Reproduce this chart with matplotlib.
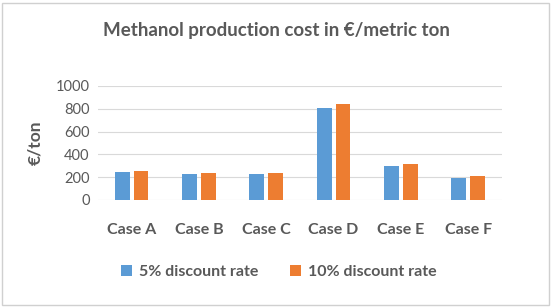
import numpy as np
import matplotlib
matplotlib.use("Agg")
import matplotlib.pyplot as plt
from matplotlib.patches import Rectangle

# Chart data
cases = ["Case A", "Case B", "Case C", "Case D", "Case E", "Case F"]
rate_5 = [243, 228, 228, 807, 298, 193]
rate_10 = [254, 237, 237, 842, 316, 213]
series_names = ["5% discount rate", "10% discount rate"]
y_ticks = [0, 200, 400, 600, 800, 1000]

BLUE = "#5B9BD5"
ORANGE = "#ED7D31"
TEXT = "#595959"
GRID = "#D9D9D9"

plt.rcParams["font.family"] = ["Lato", "DejaVu Sans"]

fig = plt.figure(figsize=(5.52, 3.07), dpi=100)
ax = fig.add_axes([0.1775, 0.349, 0.7315, 0.371])

x = np.arange(len(cases))
w = 0.22
gap = 0.03
ax.bar(x - w / 2 - gap, rate_5, width=w, color=BLUE, label=series_names[0], zorder=3)
ax.bar(x + w / 2 + gap, rate_10, width=w, color=ORANGE, label=series_names[1], zorder=3)

ax.set_xlim(-0.5, len(cases) - 0.5)
ax.set_ylim(0, 1000)
ax.set_yticks(y_ticks)
ax.set_yticklabels([str(t) for t in y_ticks], color=TEXT, fontsize=10.5)
ax.set_xticks(x)
ax.set_xticklabels(cases, color=TEXT, fontsize=11.5, fontweight="bold")
ax.tick_params(axis="x", length=0, pad=17)
ax.tick_params(axis="y", length=0, pad=6)
ax.yaxis.grid(True, color=GRID, linewidth=0.8, zorder=0)
for s in ax.spines.values():
    s.set_visible(False)

ax.set_ylabel("€/ton", color=TEXT, fontsize=12.5, fontweight="bold", labelpad=9)

fig.text(0.5, 0.9, "Methanol production cost in €/metric ton", ha="center",
         va="center", color=TEXT, fontsize=13.5, fontweight="bold")

fig.legend(loc="center", bbox_to_anchor=(0.505, 0.115), ncol=2, frameon=False,
           handlelength=0.7, handleheight=0.7, columnspacing=2.0,
           handletextpad=0.4, labelcolor=TEXT,
           prop={"weight": "bold", "size": 11.5})

# outer chart border
fig.patches.append(Rectangle((0.004, 0.006), 0.99, 0.985, transform=fig.transFigure,
                             fill=False, edgecolor="#D0D0D0", linewidth=1))

fig.savefig("out.png", dpi=100)
